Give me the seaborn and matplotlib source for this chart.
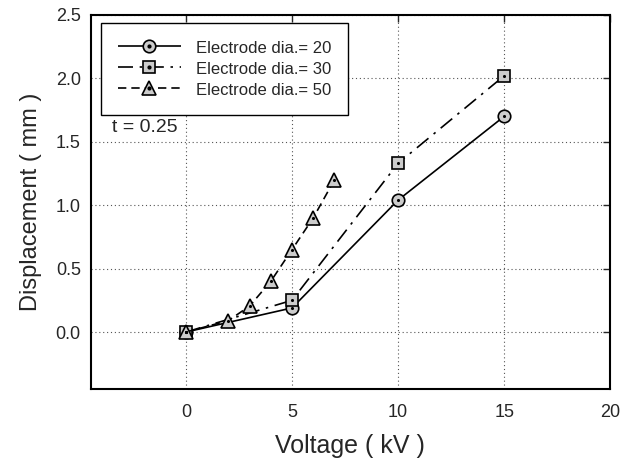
import numpy as np
import pandas as pd
import seaborn as sns
import matplotlib
matplotlib.use("Agg")
import matplotlib.pyplot as plt
from matplotlib.lines import Line2D
from matplotlib.legend_handler import HandlerTuple

# data
v20 = [0, 5, 10, 15]
d20 = [0.0, 0.19, 1.04, 1.70]
v30 = [0, 5, 10, 15]
d30 = [0.0, 0.25, 1.33, 2.02]
v50 = [0, 2, 3, 4, 5, 6, 7]
d50 = [0.0, 0.09, 0.205, 0.40, 0.65, 0.90, 1.20]
labels = ["Electrode dia.= 20", "Electrode dia.= 30", "Electrode dia.= 50"]
xticks = [0, 5, 10, 15, 20]
yticks = [0.0, 0.5, 1.0, 1.5, 2.0, 2.5]

sns.set_style("white")
plt.rcParams['font.family'] = ['Liberation Sans', 'DejaVu Sans']

fig = plt.figure(figsize=(6.33, 4.66), dpi=100)
ax = fig.add_axes([0.143, 0.165, 0.821, 0.803])

series = [
    (v20, d20, labels[0], 'o', (0, ())),
    (v30, d30, labels[1], 's', (0, (9, 4, 1.5, 4))),
    (v50, d50, labels[2], '^', (0, (5, 3))),
]
msize = {'o': 9, 's': 8, '^': 9.5}
handles = []
for xs, ys, lab, mk, ls in series:
    df = pd.DataFrame({"x": xs, "y": ys})
    sns.lineplot(data=df, x="x", y="y", ax=ax, color="black", linewidth=1.2,
                 linestyle=ls, marker=mk, markersize=msize[mk],
                 markerfacecolor="#cccccc", markeredgecolor="black",
                 markeredgewidth=1.2, legend=False, zorder=3)
    sns.scatterplot(data=df, x="x", y="y", ax=ax, color="black", s=5,
                    linewidth=0, legend=False, zorder=4, marker='o')
    h1 = Line2D([], [], color="black", linewidth=1.2, linestyle=ls, marker=mk,
                markersize=msize[mk], markerfacecolor="#cccccc",
                markeredgecolor="black", markeredgewidth=1.2)
    h2 = Line2D([], [], color="black", linestyle='none', marker='o', markersize=2)
    handles.append((h1, h2))

ax.set_xlim(-4.5, 20)
ax.set_ylim(-0.45, 2.5)
ax.set_xticks(xticks)
ax.set_yticks(yticks)
ax.set_yticklabels([f"{t:.1f}" for t in yticks])
ax.grid(True, linestyle=(0, (1, 2.5)), color="#555555", linewidth=0.8)
ax.tick_params(direction='in', length=5, width=1, top=True, right=True,
               labeltop=False, labelright=False, labelsize=13)
ax.tick_params(axis='x', pad=11)
ax.tick_params(axis='y', pad=7)
for s in ax.spines.values():
    s.set_linewidth(1.5)
    s.set_color("black")

ax.set_xlabel("Voltage ( kV )", fontsize=18, labelpad=9)
ax.set_ylabel("Displacement ( mm )", fontsize=17, labelpad=10)

leg = ax.legend(handles, labels, handler_map={tuple: HandlerTuple(ndivide=1)},
                loc="upper left", bbox_to_anchor=(0.02, 0.979), borderaxespad=0,
                fontsize=12, frameon=True, fancybox=False, edgecolor="black",
                framealpha=1.0,
                handlelength=3.8, handletextpad=0.9, borderpad=1.0,
                labelspacing=0.3, handleheight=1.0)
leg.get_frame().set_linewidth(1.0)

ax.text(0.041, 0.698, "t = 0.25", transform=ax.transAxes, fontsize=14,
        ha="left", va="center")

fig.savefig("out.png", dpi=100)
